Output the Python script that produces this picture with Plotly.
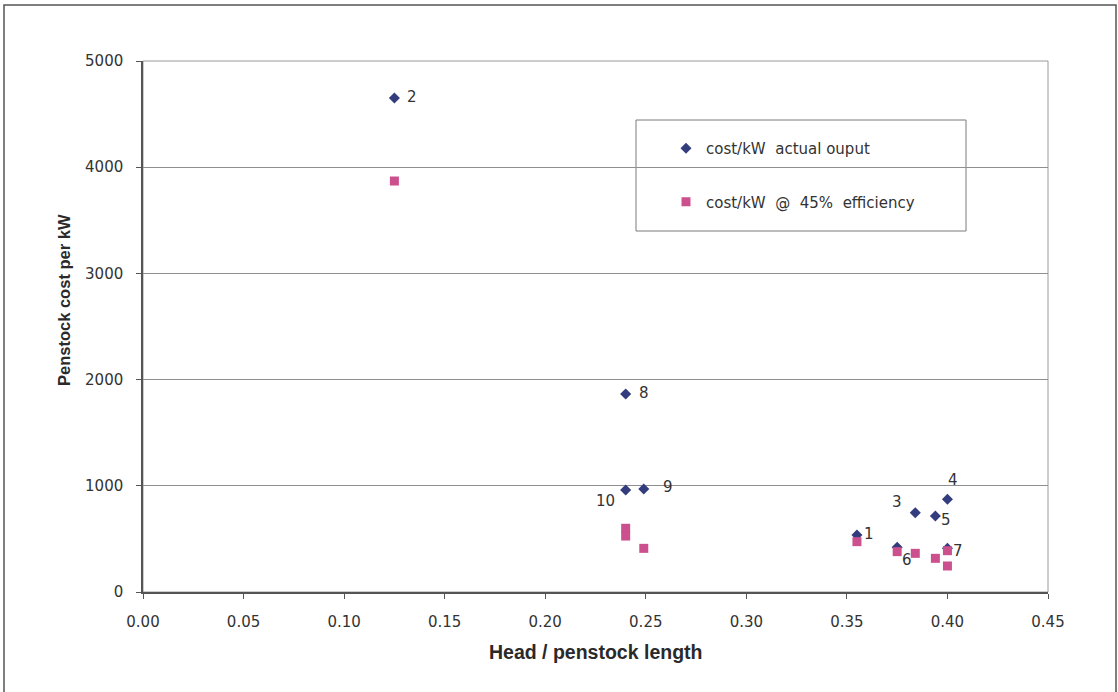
import plotly.graph_objects as go

# Site numbers, head/penstock-length ratio and penstock cost per kW
site_labels = ["1", "2", "3", "4", "5", "6", "7", "8", "9", "10"]
head_ratio = [0.355, 0.125, 0.384, 0.400, 0.394, 0.375, 0.400, 0.240, 0.249, 0.240]
cost_actual = [537, 4652, 747, 873, 716, 421, 411, 1864, 970, 960]
cost_eff45 = [474, 3870, 364, 245, 317, 380, 389, 600, 411, 527]

# Pixel offsets of each site label from its diamond (x right, y up)
label_dx = [12, 18, -18, 6, 11, 10, 11, 18, 24, -20]
label_dy = [1, 1, 11, 19, -4, -13, -3, 1, 2, -11]

W, H = 1118, 692
L, R, T, B = 143, 70, 61, 100
PW, PH = W - L - R, H - T - B


def px_x(x):
    return (x - L) / PW


def px_y(y):
    return (H - B - y) / PH


TICK_FONT = dict(family="DejaVu Sans", size=15, color="#333333")
NAVY = "#333d7e"
PINK = "#cc4f8e"

fig = go.Figure()
fig.add_trace(go.Scatter(
    x=head_ratio, y=cost_actual, mode="markers", name="cost/kW  actual ouput",
    legendgroup="a",
    marker=dict(symbol="diamond", size=8.5, color=NAVY, line=dict(width=0)),
))
fig.add_trace(go.Scatter(
    x=head_ratio, y=cost_eff45, mode="markers", name="cost/kW  @  45%  efficiency",
    legendgroup="b",
    marker=dict(symbol="square", size=9, color=PINK, line=dict(width=0)),
))

annotations = []
for lab, x, y, dx, dy in zip(site_labels, head_ratio, cost_actual, label_dx, label_dy):
    annotations.append(dict(
        x=x, y=y, xref="x", yref="y", text=lab, showarrow=False,
        xshift=dx, yshift=dy, font=dict(family="DejaVu Sans", size=15, color="#333333"),
    ))

annotations.append(dict(
    x=px_x(64), y=px_y(300), xref="paper", yref="paper", text="<b>Penstock cost per kW</b>",
    textangle=-90, showarrow=False, xanchor="center", yanchor="middle",
    font=dict(family="Liberation Sans", size=16.5, color="#2a2a2a"),
))
annotations.append(dict(
    x=px_x(595), y=px_y(652), xref="paper", yref="paper", text="<b>Head / penstock length</b>",
    showarrow=False, xanchor="center", yanchor="middle",
    font=dict(family="Liberation Sans", size=19.5, color="#2a2a2a"),
))

shapes = [
    # outer chart frame
    dict(type="rect", xref="paper", yref="paper",
         x0=px_x(4), x1=px_x(1116), y0=px_y(720), y1=px_y(5),
         line=dict(color="#555555", width=1.5), layer="below"),
    # plot area border
    dict(type="rect", xref="paper", yref="paper", x0=0, x1=1, y0=0, y1=1,
         line=dict(color="#9a9a9a", width=1), layer="below"),
    # legend box
    dict(type="rect", xref="paper", yref="paper",
         x0=px_x(636), x1=px_x(966), y0=px_y(231), y1=px_y(120),
         line=dict(color="#7a7a7a", width=1), fillcolor="white", layer="below"),
]

fig.update_layout(
    width=W, height=H,
    margin=dict(l=L, r=R, t=T, b=B, pad=0),
    paper_bgcolor="white", plot_bgcolor="white",
    showlegend=True,
    legend=dict(
        x=px_x(666), y=px_y(132), xanchor="left", yanchor="top",
        bgcolor="rgba(0,0,0,0)", borderwidth=0,
        font=dict(family="DejaVu Sans", size=15, color="#333333"),
        tracegroupgap=31, itemwidth=30,
    ),
    xaxis=dict(
        range=[0, 0.45], dtick=0.05, tick0=0, tickformat=".2f",
        showgrid=False, zeroline=False,
        showline=True, linecolor="#555555", linewidth=1.5,
        ticks="outside", ticklen=5, tickcolor="#555555",
        tickfont=TICK_FONT, ticklabelstandoff=10,
    ),
    yaxis=dict(
        range=[0, 5000], dtick=1000, tick0=0,
        showgrid=True, gridcolor="#8f8f8f", gridwidth=1, zeroline=False,
        showline=True, linecolor="#555555", linewidth=1.5,
        ticks="outside", ticklen=5, tickcolor="#555555",
        tickfont=TICK_FONT, ticklabelstandoff=10,
    ),
    annotations=annotations,
    shapes=shapes,
)

fig.write_html("out.html")
